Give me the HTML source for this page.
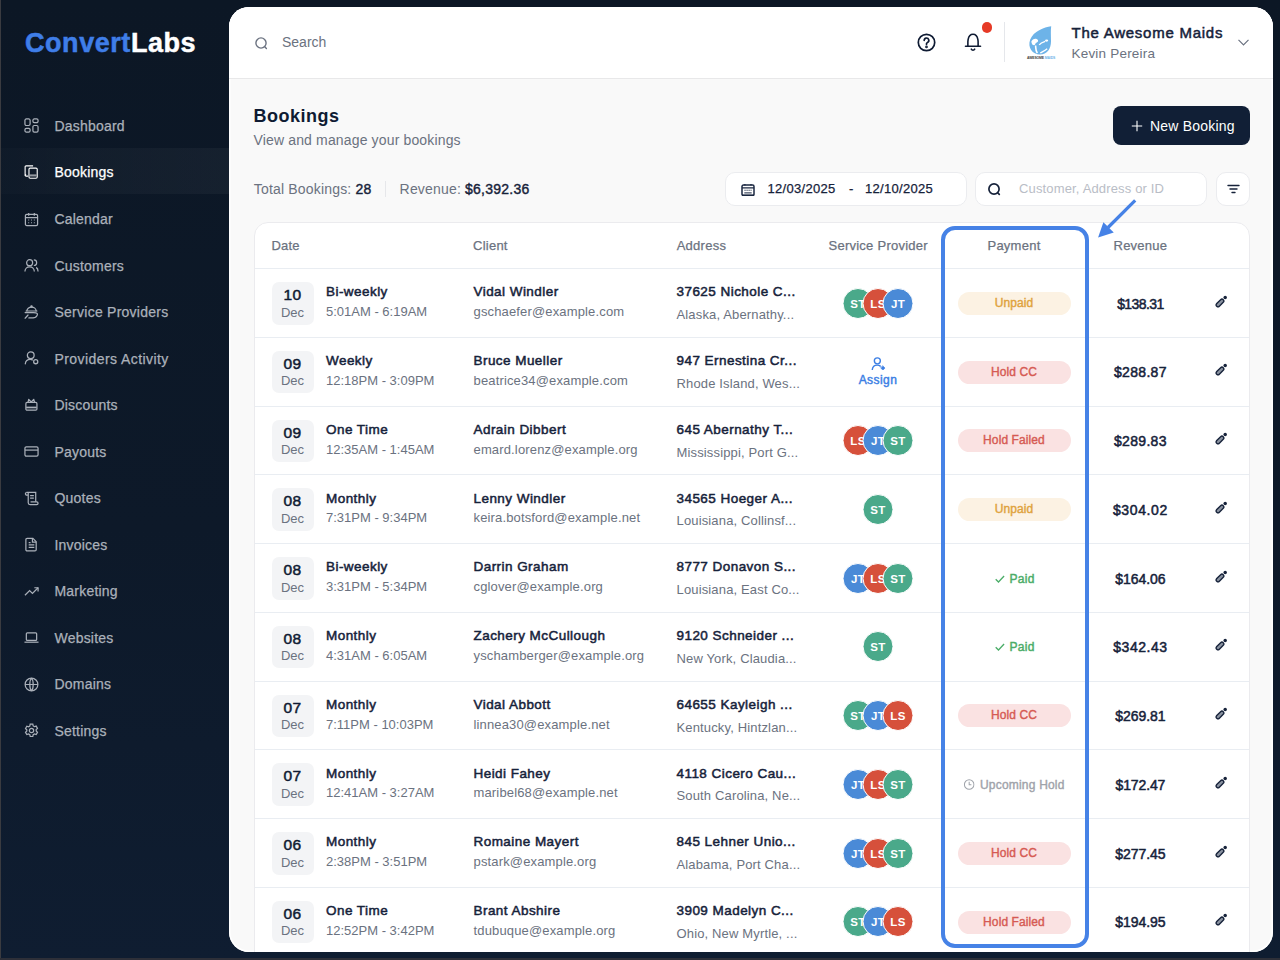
<!DOCTYPE html>
<html lang="en">
<head>
<meta charset="utf-8">
<title>Bookings - ConvertLabs</title>
<style>
*{box-sizing:border-box;margin:0;padding:0}
html,body{width:1280px;height:960px;overflow:hidden}
body{font-family:"Liberation Sans",Arial,sans-serif;background:linear-gradient(180deg,#0c1725 0%,#0d1929 55%,#0f1d31 100%);position:relative;color:#0f1b33}
.edge-l{position:absolute;left:0;top:0;width:1px;height:960px;background:#3a3b40}
.edge-b{position:absolute;left:0;top:958px;width:1280px;height:2px;background:#2d2f38}
/* sidebar */
.logo{position:absolute;left:25px;top:26.8px;font-size:27px;font-weight:700;letter-spacing:0.55px;-webkit-text-stroke:0.5px currentColor;line-height:32px;color:#fff}
.logo b{color:#3f7ee8;font-weight:700;-webkit-text-stroke:0.5px #3f7ee8}
.nav{position:absolute;left:0;top:102.7px;width:229px}
.nav a{display:flex;align-items:center;height:46.54px;padding-left:24px;color:#abb1ba;font-size:14px;letter-spacing:0.2px;text-decoration:none;position:relative;-webkit-text-stroke:0.25px currentColor}
.nav a svg{width:15px;height:15px;margin-right:15.5px;flex:none}
.nav a.active{color:#fff}
.nav-hl{position:absolute;left:1px;top:148px;width:228px;height:46px;background:linear-gradient(90deg,rgba(255,255,255,0.012),rgba(255,255,255,0.028) 40%,rgba(255,255,255,0.04))}
/* panel */
.panel{position:absolute;left:229px;top:7px;width:1044px;height:944.5px;border-radius:20px;background:#f9f9f9;overflow:hidden;box-shadow:inset 0 0 0 1.5px #fff}
.topbar{position:absolute;left:0;top:0;width:1044px;height:72px;background:#fff;border-bottom:1px solid #e8e8e9}

.tb-search{position:absolute;left:25.5px;top:29.5px;width:13px;height:13px}
.tb-search-t{position:absolute;left:53px;top:27px;font-size:14px;line-height:16px;color:#6b7280}
.tb-help{position:absolute;left:688px;top:26px;width:19px;height:19px}
.tb-bell{position:absolute;left:735px;top:26px;width:18px;height:19px}
.tb-dot{position:absolute;left:752.8px;top:15.2px;width:10.5px;height:10.5px;border-radius:50%;background:#e63a26}
.tb-div{position:absolute;left:775px;top:15px;width:1px;height:40px;background:#e5e7eb}
.tb-logo{position:absolute;left:795px;top:15px;width:32px;height:40px}
.tb-name{position:absolute;left:842.5px;top:17px;font-size:15px;font-weight:400;-webkit-text-stroke:0.5px currentColor;letter-spacing:0.75px;line-height:18px;color:#16223a}
.tb-user{position:absolute;left:842.5px;top:38.8px;font-size:13.5px;letter-spacing:0.2px;line-height:16px;color:#6b7280}
.tb-chev{position:absolute;left:1009px;top:32px;width:11px;height:7px}
.title{position:absolute;left:24.5px;top:98px;font-size:18px;font-weight:700;letter-spacing:0.5px;line-height:22px;color:#0f1b33}
.subtitle{position:absolute;left:24.5px;top:125px;font-size:14px;letter-spacing:0.15px;line-height:16px;color:#6b7280}
.newbtn{position:absolute;left:884px;top:99px;width:137px;height:39px;border-radius:8px;background:#111f36;color:#fff;font-size:14px;letter-spacing:0.2px;display:flex;align-items:center;padding-left:18px}
.newbtn svg{width:12px;height:12px;margin-right:7px}
.stats{position:absolute;left:24.8px;top:173.6px;font-size:14px;letter-spacing:0.18px;line-height:16px;color:#6b7280;white-space:nowrap}
.stats b{color:#16223a;font-weight:400;-webkit-text-stroke:0.4px currentColor;letter-spacing:0.25px}
.stats .sep{display:inline-block;width:1px;height:16px;background:#e6e7ea;vertical-align:middle;margin:0 13.5px 0 13.5px;position:relative;top:-1px}
.box{position:absolute;top:165px;height:34px;background:#fff;border:1px solid #ebecef;border-radius:10px}
.date{left:496px;width:242px}
.date svg{position:absolute;left:14.5px;top:10.5px;width:14px;height:12.5px}
.date span{position:absolute;top:8px;font-size:13px;letter-spacing:0.3px;line-height:16px;color:#16223a;-webkit-text-stroke:0.25px currentColor}
.search2{left:746px;width:232px}
.search2 svg{position:absolute;left:11.6px;top:10px;width:13px;height:13px}
.search2 span{position:absolute;left:43px;top:8px;font-size:13px;letter-spacing:0.15px;line-height:16px;color:#b9bdc6}
.filter{left:986.5px;width:34px}
.filter svg{position:absolute;left:10px;top:11px;width:13px;height:10px}

.card{position:absolute;left:25px;top:215px;width:996px;height:800px;background:#fff;border:1px solid #ebebee;border-radius:14px}
.thead{position:absolute;left:0;top:0;width:994px;height:46px;border-bottom:1px solid #e9edf2}
.th{position:absolute;top:14.5px;font-size:13px;letter-spacing:0.25px;line-height:16px;color:#6b7280;white-space:nowrap;-webkit-text-stroke:0.25px currentColor;}
.th.c{transform:translateX(-50%)}
.rows{position:absolute;left:0;top:46px;width:994px}
.row{position:absolute;left:0;width:994px;height:68.75px;border-bottom:1px solid #e9edf2}
.dbox{position:absolute;left:16.5px;top:13px;width:42px;height:42.5px;border-radius:7px;background:#f3f4f6;text-align:center}
.dbox b{position:absolute;left:0;right:0;top:4px;font-size:15.5px;line-height:18px;font-weight:400;-webkit-text-stroke:0.5px currentColor;letter-spacing:0.3px;color:#0f1b33}
.dbox span{position:absolute;left:0;right:0;top:22.7px;font-size:13px;line-height:16px;color:#6b7280}
.l1,.l2,.l2b{position:absolute;white-space:nowrap}
.l1{top:15.32px;font-size:13.5px;line-height:16px;font-weight:400;-webkit-text-stroke:0.5px currentColor;letter-spacing:0.45px;color:#16223a}
.l2{top:35px;font-size:13px;line-height:16px;color:#6b7280}
.l2b{top:38.1px;font-size:13px;line-height:16px;color:#6b7280}
.c-type{left:71px}
.c-cli{left:218.5px}
.l2.c-cli{letter-spacing:0.15px}
.l2b{letter-spacing:0.15px}
.c-addr{left:421.5px}
.avs{position:absolute;top:18.5px;height:31px;left:623px;transform:translateX(-50%)}
.av{position:absolute;top:0;width:31px;height:31px;border-radius:50%;border:1px solid #fff;color:#fff;font-style:normal;font-weight:700;font-size:11.5px;line-height:30px;text-align:center;letter-spacing:0.3px}
.av-st{background:#4aa98a}
.av-ls{background:#d6503b}
.av-jt{background:#4a8ad7}
.assign{position:absolute;left:623px;top:18px;transform:translateX(-50%);text-align:center;color:#3c7fe4;font-size:12px;font-weight:400;-webkit-text-stroke:0.45px currentColor;letter-spacing:0.45px;line-height:14px;width:60px}
.assign svg{display:block;width:15px;height:14px;margin:0 auto 3px}
.badge{position:absolute;left:702.5px;top:22.8px;width:113px;height:23px;border-radius:12px;text-align:center;font-size:12px;font-weight:400;-webkit-text-stroke:0.4px currentColor;letter-spacing:0.1px;line-height:23px}
.b-unpaid{background:#fcf2e3;color:#e0a23c}
.b-hold{background:#fae2e2;color:#d65a53}
.pay-paid{position:absolute;left:759.6px;top:26.7px;transform:translateX(-50%);font-size:12px;line-height:16px;color:#4bad68;white-space:nowrap;-webkit-text-stroke:0.45px currentColor;letter-spacing:0.3px}
.pay-paid svg{width:10px;height:8px;margin-right:5px;vertical-align:0px}
.pay-up{position:absolute;left:759.3px;top:27.2px;transform:translateX(-50%);font-size:12px;line-height:16px;color:#9fa3aa;white-space:nowrap;-webkit-text-stroke:0.4px currentColor;letter-spacing:0.2px}
.pay-up svg{width:11px;height:11px;margin-right:5px;vertical-align:-1px}
.rev{position:absolute;left:885.4px;top:26.65px;transform:translateX(-50%);font-size:14px;line-height:16px;font-weight:400;-webkit-text-stroke:0.5px currentColor;color:#16223a;letter-spacing:0.15px}
.edit{position:absolute;left:959px;top:25.5px;width:13px;height:13px}
.hl{position:absolute;left:712px;top:219px;width:148px;height:722px;border:4px solid #4682e6;border-radius:14px}
.arrow{position:absolute;left:860px;top:185px;width:50px;height:60px}
</style>
</head>
<body>
<div class="edge-l"></div>
<div class="logo"><b>Convert</b>Labs</div>
<div class="nav-hl"></div>
<nav class="nav">
  <a href="#"><svg viewBox="0 0 16 16" fill="none" stroke="currentColor" stroke-width="1.3"><rect x="1" y="1" width="5.5" height="7" rx="1.5"/><rect x="9.5" y="1" width="5.5" height="4" rx="1.5"/><rect x="1" y="11" width="5.5" height="4" rx="1.5"/><rect x="9.5" y="8" width="5.5" height="7" rx="1.5"/></svg>Dashboard</a>
  <a href="#" class="active"><svg viewBox="0 0 16 16" fill="none" stroke="currentColor" stroke-width="1.2"><path d="M4.3 11.8H2.2A1 1 0 0 1 1.2 10.8V1.9A1 1 0 0 1 2.2 .9H9.7"/><path d="M2.2 9.6l-1 1.2 1 1" stroke-width="1"/><rect x="5.3" y="3.3" width="8.8" height="10.8" rx="1.3"/><path d="M6.2 11.1h7" stroke-width="2.2" stroke-opacity=".55"/></svg>Bookings</a>
  <a href="#"><svg viewBox="0 0 16 16" fill="none" stroke="currentColor" stroke-width="1.3"><rect x="1.5" y="2.5" width="13" height="12" rx="1.5"/><path d="M1.5 6h13M5 1v3M11 1v3"/><path d="M4.5 8.5h1M7.5 8.5h1M10.5 8.5h1M4.5 11.5h1M7.5 11.5h1M10.5 11.5h1" stroke-width="1.2"/></svg>Calendar</a>
  <a href="#"><svg viewBox="0 0 16 16" fill="none" stroke="currentColor" stroke-width="1.3"><circle cx="6" cy="5" r="3.2"/><path d="M1 14.5c0-3 2.2-5 5-5s5 2 5 5"/><path d="M10.5 2a3 3 0 0 1 0 6M13 10c1.3.8 2 2.5 2 4.5"/></svg>Customers</a>
  <a href="#"><svg viewBox="0 0 16 16" fill="none" stroke="currentColor" stroke-width="1.3" stroke-linecap="round" stroke-linejoin="round"><circle cx="8" cy="1.6" r=".7" fill="currentColor"/><path d="M3.1 6.2A4.9 4 0 0 1 12.9 6.2"/><path d="M2.2 6.4h11.6"/><path d="M1.2 8.1h7.2c2 0 4.6-.3 5.6.9 1 1.3-.6 3.5-2.2 4.2-1 .4-2.6.6-4.6.6H5.2"/><path d="M1.2 14.1l3.1-3.4"/></svg><span style="letter-spacing:0.25px">Service Providers</span></a>
  <a href="#"><svg viewBox="0 0 16 16" fill="none" stroke="currentColor" stroke-width="1.35" stroke-linecap="round"><circle cx="7.2" cy="4.6" r="3.6"/><path d="M1.4 13.6c.3-2.6 2.6-4.6 5.3-4.6 .9 0 1.6.2 2.2.5"/><circle cx="12.5" cy="11.4" r="2.2"/></svg><span style="letter-spacing:0.42px">Providers Activity</span></a>
  <a href="#"><svg viewBox="0 0 16 16" fill="none" stroke="currentColor" stroke-width="1.3" stroke-linejoin="round"><rect x="2" y="4.7" width="11.8" height="8.2" rx="1.3"/><path d="M2.3 10.1h11.2" stroke-width="1.8"/><path d="M4.3 4.6L5 1.4 7.7 4.3 10.4 1.4 11.3 4.6"/></svg>Discounts</a>
  <a href="#"><svg viewBox="0 0 16 16" fill="none" stroke="currentColor" stroke-width="1.3"><rect x="1" y="3" width="14" height="10" rx="1.5"/><path d="M1 6.5h14"/></svg>Payouts</a>
  <a href="#"><svg viewBox="0 0 16 16" fill="none" stroke="currentColor" stroke-width="1.3"><path d="M3 1.5h9.5v10"/><path d="M3 1.5a1.5 1.5 0 0 0 0 3h1.5"/><path d="M4.5 1.5v11a2 2 0 0 0 2 2h7a1.5 1.5 0 0 0 0-3H7"/><path d="M6.5 5h4M6.5 7.5h4"/></svg>Quotes</a>
  <a href="#"><svg viewBox="0 0 16 16" fill="none" stroke="currentColor" stroke-width="1.3"><path d="M3 1.5h6.5l3.5 3.5v8.5a1.3 1.3 0 0 1-1.3 1.3H3.3A1.3 1.3 0 0 1 2 13.5V2.8A1.3 1.3 0 0 1 3.3 1.5z"/><path d="M9 1.5v4h4M5 8.5h6M5 11h6M5 6h2"/></svg>Invoices</a>
  <a href="#"><svg viewBox="0 0 16 16" fill="none" stroke="currentColor" stroke-width="1.3"><path d="M1 12l5-5 3 3 6-6"/><path d="M11 4h4v4"/></svg>Marketing</a>
  <a href="#"><svg viewBox="0 0 16 16" fill="none" stroke="currentColor" stroke-width="1.3"><rect x="2.5" y="3" width="11" height="8" rx="1"/><path d="M0.5 13h15"/></svg>Websites</a>
  <a href="#"><svg viewBox="0 0 16 16" fill="none" stroke="currentColor" stroke-width="1.3"><circle cx="8" cy="8" r="6.8"/><path d="M1.2 8h13.6M8 1.2c-2.4 2.4-2.4 11.2 0 13.6M8 1.2c2.4 2.4 2.4 11.2 0 13.6"/></svg>Domains</a>
  <a href="#"><svg viewBox="0 0 16 16" fill="none" stroke="currentColor" stroke-width="1.3"><circle cx="8" cy="8" r="2.3"/><path d="M6.6 1.2h2.8l.4 1.9 1.4.8 1.8-.6 1.4 2.4-1.4 1.3v1.6l1.4 1.3-1.4 2.4-1.8-.6-1.4.8-.4 1.9H6.6l-.4-1.9-1.4-.8-1.8.6-1.4-2.4 1.4-1.3V7.2L1.6 5.9 3 3.5l1.8.6 1.4-.8z"/></svg>Settings</a>
</nav>
<div class="panel">

  <div class="topbar">
    <svg class="tb-search" viewBox="0 0 13 13" fill="none" stroke="#6b7280" stroke-width="1.4"><circle cx="6" cy="6" r="5.1"/><path d="M9.8 9.8l1.6 1.6" stroke-linecap="round"/></svg>
    <div class="tb-search-t">Search</div>
    <svg class="tb-help" viewBox="0 0 19 19" fill="none" stroke="#0f1b33" stroke-width="1.7"><circle cx="9.5" cy="9.5" r="8.2"/><path d="M7.2 7.3a2.3 2.3 0 1 1 3.3 2.1c-.6.3-1 .8-1 1.4v.5" stroke-linecap="round"/><circle cx="9.5" cy="13.9" r=".5" fill="#0f1b33"/></svg>
    <svg class="tb-bell" viewBox="0 0 18 19" fill="none" stroke="#0f1b33" stroke-width="1.6"><path d="M3.9 13.2C3.9 10.5 3.7 8.6 4.1 6.6 4.7 3.4 6.6 1.3 9 1.3s4.3 2.1 4.9 5.3c.4 2 .2 3.9.2 6.6"/><path d="M1.5 13.3h15" stroke-linecap="round"/><path d="M7.3 16.2a1.9 1.9 0 0 0 3.4 0" stroke-linecap="round"/></svg>
    <div class="tb-dot"></div>
    <div class="tb-div"></div>
    <svg class="tb-logo" viewBox="0 0 32 40"><path d="M27.2 4.2C20 5.2 9.5 9.2 6.2 17.5C3.2 25.5 8.6 32.6 16 32.6C23.2 32.6 27 26.6 27 19.5C27 13 26.6 8.5 27.2 4.2Z" fill="#6db3e8"/><path d="M7.3 19.8c.8-2.4 3-3.4 5.3-2.9 1.3.3 1.8 1.6 1.3 2.6-.4.8-1.3 1-2 1.5-.7.5-.5 1.6-1.2 2-.9.4-1.9-.2-2.6-.8" fill="#fff"/><path d="M11.6 23.5c.3 2.5-.2 5 1.7 7.6" stroke="#fff" stroke-width="1.6" fill="none"/><path d="M15.2 22.8c1.2-1.6 3.6-2.6 6-3.4" stroke="#fff" stroke-width="1.3" fill="none"/><ellipse cx="22.6" cy="18.6" rx="1.6" ry="1.1" fill="#fff"/><path d="M16.2 31c2.2-1.3 4.6-2.2 7-4.2" stroke="#fff" stroke-width="1.4" fill="none"/><text x="3" y="37.2" font-family="Liberation Sans,Arial,sans-serif" font-size="3.4" font-weight="700" fill="#3a3a3a" letter-spacing="-0.1">AWESOME <tspan fill="#6db3e8">MAIDS</tspan></text></svg>
    <div class="tb-name">The Awesome Maids</div>
    <div class="tb-user">Kevin Pereira</div>
    <svg class="tb-chev" viewBox="0 0 11 7" fill="none" stroke="#6b7280" stroke-width="1.2"><path d="M0.5 0.8l5 5 5-5"/></svg>
  </div>
  <div class="title">Bookings</div>
  <div class="subtitle">View and manage your bookings</div>
  <div class="newbtn"><svg viewBox="0 0 12 12" fill="none" stroke="#fff" stroke-width="1.1"><path d="M6 0.8v10.4M0.8 6h10.4"/></svg>New Booking</div>
  <div class="stats">Total Bookings: <b>28</b><span class="sep"></span>Revenue: <b>$6,392.36</b></div>
  <div class="box date">
    <svg viewBox="0 0 14 12.5" fill="none" stroke="#1a2740" stroke-width="1.5"><rect x="1" y="1" width="12" height="10.6" rx="1.4"/><path d="M1 3.9h12" stroke-width="1.3"/><path d="M1 11.2h12" stroke-width="1.6"/><path d="M3.9 0v1.6M10 0v1.6" stroke-width="1.2"/><path d="M3.3 6.3h7.4" stroke-width="1.1" stroke-dasharray="1.5 .55" stroke-opacity=".75"/><path d="M3.3 8.9h7.4" stroke-width="1"/></svg>
    <span style="left:41.5px">12/03/2025</span>
    <span style="left:123px">-</span>
    <span style="left:139px">12/10/2025</span>
  </div>
  <div class="box search2">
    <svg viewBox="0 0 13 13" fill="none" stroke="#16223a" stroke-width="1.7"><circle cx="6" cy="6" r="5.1"/><path d="M9.8 9.8l1.5 1.5" stroke-linecap="round"/></svg>
    <span>Customer, Address or ID</span>
  </div>
  <div class="box filter">
    <svg viewBox="0 0 13 10" fill="none" stroke="#16223a" stroke-width="1.4" stroke-linecap="round"><path d="M1 1.5h11M3 5h7M5 8.5h3"/></svg>
  </div>
  <div class="card">
    <div class="thead">
      <div class="th" style="left:16.4px">Date</div>
      <div class="th" style="left:218px">Client</div>
      <div class="th" style="left:421.7px">Address</div>
      <div class="th c" style="left:623.2px">Service Provider</div>
      <div class="th c" style="left:759px">Payment</div>
      <div class="th c" style="left:885.4px">Revenue</div>
    </div>
    <div class="rows">
<div class="row" style="top:0.00px">
<div class="dbox"><b>10</b><span>Dec</span></div>
<div class="l1 c-type">Bi-weekly</div><div class="l2 c-type">5:01AM - 6:19AM</div>
<div class="l1 c-cli">Vidal Windler</div><div class="l2 c-cli">gschaefer@example.com</div>
<div class="l1 c-addr">37625 Nichole C...</div><div class="l2b c-addr">Alaska, Abernathy...</div>
<div class="avs" style="width:71px"><i class="av av-st" style="left:0px">ST</i><i class="av av-ls" style="left:20px">LS</i><i class="av av-jt" style="left:40px">JT</i></div>
<div class="badge b-unpaid">Unpaid</div>
<div class="rev" style="letter-spacing:-0.6px">$138.31</div>
<svg class="edit" viewBox="0 0 13 13"><rect x="1.4" y="6.1" width="9.2" height="3.7" rx="1.85" transform="rotate(-45 6 7.95)" fill="#8a92a0" stroke="#16223a" stroke-width="1.35"/><circle cx="11.2" cy="2.6" r="1.75" fill="#16223a"/></svg>
</div>
<div class="row" style="top:68.75px">
<div class="dbox"><b>09</b><span>Dec</span></div>
<div class="l1 c-type">Weekly</div><div class="l2 c-type">12:18PM - 3:09PM</div>
<div class="l1 c-cli">Bruce Mueller</div><div class="l2 c-cli">beatrice34@example.com</div>
<div class="l1 c-addr">947 Ernestina Cr...</div><div class="l2b c-addr">Rhode Island, Wes...</div>
<div class="assign"><svg viewBox="0 0 15 14" fill="none" stroke="currentColor" stroke-width="1.4" stroke-linecap="round"><circle cx="6.35" cy="4.85" r="3"/><path d="M1.3 13.6c.2-2.6 2.3-4.5 5-4.5 1.2 0 2.3.4 3 1"/><path d="M11.9 9.9l2.1 2.15-2.1 2.1-2.1-2.1z" fill="currentColor" stroke-width=".6"/></svg><span>Assign</span></div>
<div class="badge b-hold">Hold CC</div>
<div class="rev" style="letter-spacing:0.33px">$288.87</div>
<svg class="edit" viewBox="0 0 13 13"><rect x="1.4" y="6.1" width="9.2" height="3.7" rx="1.85" transform="rotate(-45 6 7.95)" fill="#8a92a0" stroke="#16223a" stroke-width="1.35"/><circle cx="11.2" cy="2.6" r="1.75" fill="#16223a"/></svg>
</div>
<div class="row" style="top:137.50px">
<div class="dbox"><b>09</b><span>Dec</span></div>
<div class="l1 c-type">One Time</div><div class="l2 c-type">12:35AM - 1:45AM</div>
<div class="l1 c-cli">Adrain Dibbert</div><div class="l2 c-cli">emard.lorenz@example.org</div>
<div class="l1 c-addr">645 Abernathy T...</div><div class="l2b c-addr">Mississippi, Port G...</div>
<div class="avs" style="width:71px"><i class="av av-ls" style="left:0px">LS</i><i class="av av-jt" style="left:20px">JT</i><i class="av av-st" style="left:40px">ST</i></div>
<div class="badge b-hold">Hold Failed</div>
<div class="rev" style="letter-spacing:0.33px">$289.83</div>
<svg class="edit" viewBox="0 0 13 13"><rect x="1.4" y="6.1" width="9.2" height="3.7" rx="1.85" transform="rotate(-45 6 7.95)" fill="#8a92a0" stroke="#16223a" stroke-width="1.35"/><circle cx="11.2" cy="2.6" r="1.75" fill="#16223a"/></svg>
</div>
<div class="row" style="top:206.25px">
<div class="dbox"><b>08</b><span>Dec</span></div>
<div class="l1 c-type">Monthly</div><div class="l2 c-type">7:31PM - 9:34PM</div>
<div class="l1 c-cli">Lenny Windler</div><div class="l2 c-cli">keira.botsford@example.net</div>
<div class="l1 c-addr">34565 Hoeger A...</div><div class="l2b c-addr">Louisiana, Collinsf...</div>
<div class="avs" style="width:31px"><i class="av av-st" style="left:0px">ST</i></div>
<div class="badge b-unpaid">Unpaid</div>
<div class="rev" style="letter-spacing:0.6px">$304.02</div>
<svg class="edit" viewBox="0 0 13 13"><rect x="1.4" y="6.1" width="9.2" height="3.7" rx="1.85" transform="rotate(-45 6 7.95)" fill="#8a92a0" stroke="#16223a" stroke-width="1.35"/><circle cx="11.2" cy="2.6" r="1.75" fill="#16223a"/></svg>
</div>
<div class="row" style="top:275.00px">
<div class="dbox"><b>08</b><span>Dec</span></div>
<div class="l1 c-type">Bi-weekly</div><div class="l2 c-type">3:31PM - 5:34PM</div>
<div class="l1 c-cli">Darrin Graham</div><div class="l2 c-cli">cglover@example.org</div>
<div class="l1 c-addr">8777 Donavon S...</div><div class="l2b c-addr">Louisiana, East Co...</div>
<div class="avs" style="width:71px"><i class="av av-jt" style="left:0px">JT</i><i class="av av-ls" style="left:20px">LS</i><i class="av av-st" style="left:40px">ST</i></div>
<div class="pay-paid"><svg viewBox="0 0 10 8" fill="none" stroke="currentColor" stroke-width="1.3"><path d="M0.8 4.2l2.8 2.8 5.6-6"/></svg>Paid</div>
<div class="rev" style="letter-spacing:-0.03px">$164.06</div>
<svg class="edit" viewBox="0 0 13 13"><rect x="1.4" y="6.1" width="9.2" height="3.7" rx="1.85" transform="rotate(-45 6 7.95)" fill="#8a92a0" stroke="#16223a" stroke-width="1.35"/><circle cx="11.2" cy="2.6" r="1.75" fill="#16223a"/></svg>
</div>
<div class="row" style="top:343.75px">
<div class="dbox"><b>08</b><span>Dec</span></div>
<div class="l1 c-type">Monthly</div><div class="l2 c-type">4:31AM - 6:05AM</div>
<div class="l1 c-cli">Zachery McCullough</div><div class="l2 c-cli">yschamberger@example.org</div>
<div class="l1 c-addr">9120 Schneider ...</div><div class="l2b c-addr">New York, Claudia...</div>
<div class="avs" style="width:31px"><i class="av av-st" style="left:0px">ST</i></div>
<div class="pay-paid"><svg viewBox="0 0 10 8" fill="none" stroke="currentColor" stroke-width="1.3"><path d="M0.8 4.2l2.8 2.8 5.6-6"/></svg>Paid</div>
<div class="rev" style="letter-spacing:0.52px">$342.43</div>
<svg class="edit" viewBox="0 0 13 13"><rect x="1.4" y="6.1" width="9.2" height="3.7" rx="1.85" transform="rotate(-45 6 7.95)" fill="#8a92a0" stroke="#16223a" stroke-width="1.35"/><circle cx="11.2" cy="2.6" r="1.75" fill="#16223a"/></svg>
</div>
<div class="row" style="top:412.50px">
<div class="dbox"><b>07</b><span>Dec</span></div>
<div class="l1 c-type">Monthly</div><div class="l2 c-type">7:11PM - 10:03PM</div>
<div class="l1 c-cli">Vidal Abbott</div><div class="l2 c-cli">linnea30@example.net</div>
<div class="l1 c-addr">64655 Kayleigh ...</div><div class="l2b c-addr">Kentucky, Hintzlan...</div>
<div class="avs" style="width:71px"><i class="av av-st" style="left:0px">ST</i><i class="av av-jt" style="left:20px">JT</i><i class="av av-ls" style="left:40px">LS</i></div>
<div class="badge b-hold">Hold CC</div>
<div class="rev" style="letter-spacing:-0.02px">$269.81</div>
<svg class="edit" viewBox="0 0 13 13"><rect x="1.4" y="6.1" width="9.2" height="3.7" rx="1.85" transform="rotate(-45 6 7.95)" fill="#8a92a0" stroke="#16223a" stroke-width="1.35"/><circle cx="11.2" cy="2.6" r="1.75" fill="#16223a"/></svg>
</div>
<div class="row" style="top:481.25px">
<div class="dbox"><b>07</b><span>Dec</span></div>
<div class="l1 c-type">Monthly</div><div class="l2 c-type">12:41AM - 3:27AM</div>
<div class="l1 c-cli">Heidi Fahey</div><div class="l2 c-cli">maribel68@example.net</div>
<div class="l1 c-addr">4118 Cicero Cau...</div><div class="l2b c-addr">South Carolina, Ne...</div>
<div class="avs" style="width:71px"><i class="av av-jt" style="left:0px">JT</i><i class="av av-ls" style="left:20px">LS</i><i class="av av-st" style="left:40px">ST</i></div>
<div class="pay-up"><svg viewBox="0 0 12 12" fill="none" stroke="currentColor" stroke-width="1.1"><circle cx="6" cy="6" r="5.2"/><path d="M6 3v3.2h2.4"/></svg>Upcoming Hold</div>
<div class="rev" style="letter-spacing:-0.12px">$172.47</div>
<svg class="edit" viewBox="0 0 13 13"><rect x="1.4" y="6.1" width="9.2" height="3.7" rx="1.85" transform="rotate(-45 6 7.95)" fill="#8a92a0" stroke="#16223a" stroke-width="1.35"/><circle cx="11.2" cy="2.6" r="1.75" fill="#16223a"/></svg>
</div>
<div class="row" style="top:550.00px">
<div class="dbox"><b>06</b><span>Dec</span></div>
<div class="l1 c-type">Monthly</div><div class="l2 c-type">2:38PM - 3:51PM</div>
<div class="l1 c-cli">Romaine Mayert</div><div class="l2 c-cli">pstark@example.org</div>
<div class="l1 c-addr">845 Lehner Unio...</div><div class="l2b c-addr">Alabama, Port Cha...</div>
<div class="avs" style="width:71px"><i class="av av-jt" style="left:0px">JT</i><i class="av av-ls" style="left:20px">LS</i><i class="av av-st" style="left:40px">ST</i></div>
<div class="badge b-hold">Hold CC</div>
<div class="rev" style="letter-spacing:-0.02px">$277.45</div>
<svg class="edit" viewBox="0 0 13 13"><rect x="1.4" y="6.1" width="9.2" height="3.7" rx="1.85" transform="rotate(-45 6 7.95)" fill="#8a92a0" stroke="#16223a" stroke-width="1.35"/><circle cx="11.2" cy="2.6" r="1.75" fill="#16223a"/></svg>
</div>
<div class="row" style="top:618.75px">
<div class="dbox"><b>06</b><span>Dec</span></div>
<div class="l1 c-type">One Time</div><div class="l2 c-type">12:52PM - 3:42PM</div>
<div class="l1 c-cli">Brant Abshire</div><div class="l2 c-cli">tdubuque@example.org</div>
<div class="l1 c-addr">3909 Madelyn C...</div><div class="l2b c-addr">Ohio, New Myrtle, ...</div>
<div class="avs" style="width:71px"><i class="av av-st" style="left:0px">ST</i><i class="av av-jt" style="left:20px">JT</i><i class="av av-ls" style="left:40px">LS</i></div>
<div class="badge b-hold">Hold Failed</div>
<div class="rev" style="letter-spacing:-0.02px">$194.95</div>
<svg class="edit" viewBox="0 0 13 13"><rect x="1.4" y="6.1" width="9.2" height="3.7" rx="1.85" transform="rotate(-45 6 7.95)" fill="#8a92a0" stroke="#16223a" stroke-width="1.35"/><circle cx="11.2" cy="2.6" r="1.75" fill="#16223a"/></svg>
</div>
    </div>
  </div>
  <div class="hl"></div>
  <svg class="arrow" viewBox="860 185 50 60"><path d="M906.2 193.3L879 220.5" stroke="#4682e6" stroke-width="3.2" fill="none"/><path d="M869.1 230.5L874.4 215.2L884.75 225.5Z" fill="#4682e6"/></svg>
</div>
<div class="edge-b"></div>
</body>
</html>
